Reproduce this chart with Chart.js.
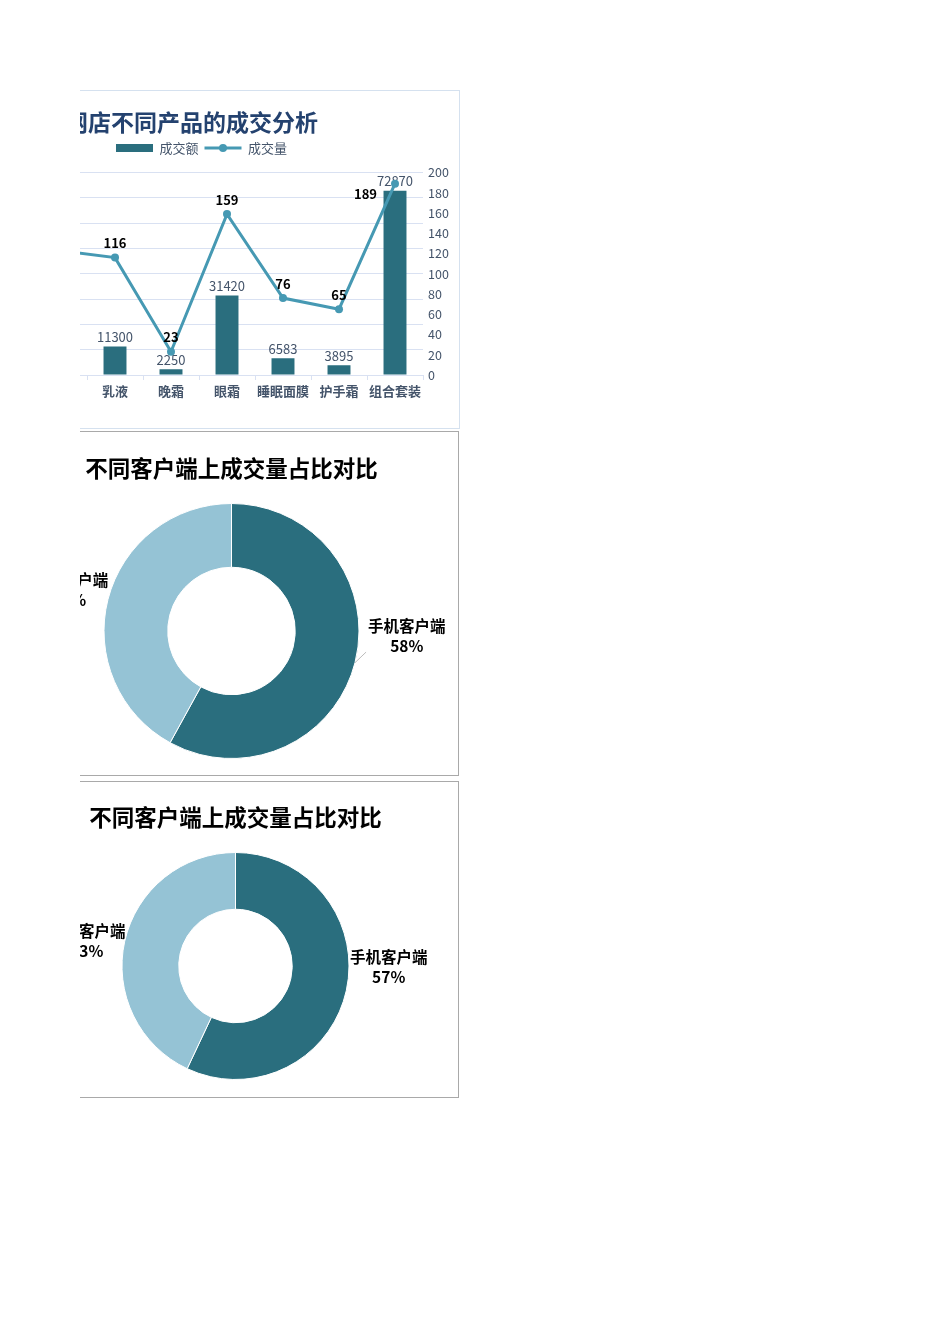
<!DOCTYPE html>
<html>
<head>
<meta charset="utf-8">
<script src="https://cdn.jsdelivr.net/npm/chart.js@4.4.1/dist/chart.umd.min.js"></script>
<style>
  body { margin: 0; background: #fff; }
  #page { position: relative; width: 950px; height: 1344px; }
  #clip { position: absolute; left: 80px; top: 0; width: 870px; height: 1344px; overflow: hidden; }
  .box { position: absolute; box-sizing: border-box; background: #fff; }
  .box canvas { position: absolute; left: 0; top: 0; }
  #box1 { left: -157px; top: 90px; width: 537px; height: 339px; border: 1px solid #D5E1EF; }
  #box2 { left: -76px; top: 431px; width: 455px; height: 345px; border: 1px solid #A9A9A9; }
  #box3 { left: -68px; top: 781px; width: 447px; height: 317px; border: 1px solid #A9A9A9; }
</style>
</head>
<body>
<div id="page">
  <div id="clip">
    <div class="box" id="box1"><canvas id="salesChart" width="535" height="337"></canvas></div>
    <div class="box" id="box2"><canvas id="clientChart1" width="453" height="343"></canvas></div>
    <div class="box" id="box3"><canvas id="clientChart2" width="445" height="315"></canvas></div>
  </div>
</div>
<script>
  // 产品成交数据（前两个品类在原图中被裁掉，数值为估计）
  const products = ['洗面奶', '爽肤水', '乳液', '晚霜', '眼霜', '睡眠面膜', '护手霜', '组合套装'];
  const amount = [15600, 18400, 11300, 2250, 31420, 6583, 3895, 72870];
  const volume = [96, 123, 116, 23, 159, 76, 65, 189];

  // 客户端占比
  const clients = ['手机客户端', '电脑客户端'];
  const share1 = [58, 42];
  const share2 = [57, 43];

  const DARK = '#2A6E7E';
  const LIGHT = '#95C3D5';
  const LINE = '#4699B3';
  const AXIS_TEXT = '#44546A';
  const LEGEND_SHIFT = 10;

  Chart.defaults.font.family = '"Noto Sans CJK SC", "Noto Sans", sans-serif';

  // 数值标签：柱子在线下，折线标签在最上面
  const valueLabels = {
    id: 'valueLabels',
    afterDatasetDraw(chart, args) {
      const ctx = chart.ctx;
      ctx.save();
      if (args.index === 0) {
        ctx.font = '13px "Noto Sans CJK SC"';
        ctx.fillStyle = AXIS_TEXT;
        ctx.textAlign = 'center';
        ctx.textBaseline = 'bottom';
        args.meta.data.forEach((bar, i) => ctx.fillText(amount[i], bar.x, bar.y - 3));
      } else {
        ctx.font = 'bold 13px "Noto Sans CJK SC"';
        ctx.fillStyle = '#000';
        args.meta.data.forEach((pt, i) => {
          if (i === volume.length - 1) {
            ctx.textAlign = 'right';
            ctx.textBaseline = 'middle';
            ctx.fillText(volume[i], pt.x - 18, pt.y + 10);
          } else {
            ctx.textAlign = 'center';
            ctx.textBaseline = 'bottom';
            ctx.fillText(volume[i], pt.x, pt.y - 8);
          }
        });
      }
      ctx.restore();
    }
  };

  // 图例：往右挪一点，下方留点空，折线项画成线 + 圆点
  const legendTweak = {
    id: 'legendTweak',
    beforeUpdate(chart) {
      const lg = chart.legend;
      if (!lg || lg._tweaked) return;
      lg._tweaked = true;
      const fit = lg.fit.bind(lg);
      lg.fit = function () { fit(); this.height += 8; };
      const draw = lg.draw.bind(lg);
      lg.draw = function () {
        chart.ctx.save();
        chart.ctx.translate(LEGEND_SHIFT, 0);
        draw();
        chart.ctx.restore();
      };
    },
    afterDraw(chart) {
      const hb = chart.legend.legendHitBoxes[1];
      if (!hb) return;
      const ctx = chart.ctx;
      const x = hb.left + LEGEND_SHIFT;
      const y = hb.top + hb.height / 2;
      ctx.save();
      ctx.strokeStyle = LINE;
      ctx.lineWidth = 3;
      ctx.beginPath();
      ctx.moveTo(x, y);
      ctx.lineTo(x + 37, y);
      ctx.stroke();
      ctx.fillStyle = LINE;
      ctx.beginPath();
      ctx.arc(x + 18.5, y, 4, 0, Math.PI * 2);
      ctx.fill();
      ctx.restore();
    }
  };

  function salesChart() {
    new Chart('salesChart', {
      data: {
        labels: products,
        datasets: [{
          type: 'bar',
          label: '成交额',
          data: amount,
          yAxisID: 'yL',
          backgroundColor: DARK,
          categoryPercentage: 1,
          barPercentage: 0.41,
          order: 1
        }, {
          type: 'line',
          label: '成交量',
          data: volume,
          yAxisID: 'yR',
          borderColor: LINE,
          backgroundColor: LINE,
          borderWidth: 3,
          pointRadius: 4,
          pointBackgroundColor: LINE,
          pointBorderWidth: 0,
          tension: 0,
          order: 0
        }]
      },
      options: {
        responsive: false,
        animation: false,
        layout: { padding: { left: 0, right: 0, top: 0, bottom: 20 } },
        plugins: {
          title: {
            display: true,
            text: '网店不同产品的成交分析',
            color: '#24426F',
            font: { size: 23, weight: 'bold' },
            padding: { top: 17, bottom: 0 }
          },
          legend: {
            display: true,
            labels: {
              boxWidth: 37,
              boxHeight: 8,
              padding: 6,
              color: AXIS_TEXT,
              font: { size: 13 },
              generateLabels(chart) {
                const items = Chart.defaults.plugins.legend.labels.generateLabels(chart);
                items.sort((a, b) => a.datasetIndex - b.datasetIndex);
                items.forEach(it => {
                  it.lineWidth = 0;
                  it.strokeStyle = 'rgba(0,0,0,0)';
                  it.fillStyle = it.datasetIndex === 0 ? DARK : 'rgba(0,0,0,0)';
                });
                return items;
              }
            }
          },
          tooltip: { enabled: false }
        },
        scales: {
          x: {
            grid: { display: true, drawOnChartArea: false, drawTicks: true, tickLength: 5, color: '#D9E1F2', offset: true },
            border: { display: true, color: '#D9E1F2' },
            ticks: { color: AXIS_TEXT, font: { size: 13, weight: 'bold' }, padding: 3, maxRotation: 0 },
            afterFit(scale) { scale.height = 33; }
          },
          yL: {
            position: 'left',
            min: 0,
            max: 80000,
            ticks: { stepSize: 10000, color: AXIS_TEXT, font: { size: 12 } },
            grid: { color: '#D9E1F2', drawTicks: false },
            border: { display: false },
            afterFit(scale) { scale.width = 51; }
          },
          yR: {
            position: 'right',
            min: 0,
            max: 200,
            ticks: { stepSize: 20, color: AXIS_TEXT, font: { size: 12.5 }, padding: 5 },
            grid: { display: false, drawTicks: false },
            border: { display: false },
            afterFit(scale) { scale.width = 36; }
          }
        }
      },
      plugins: [valueLabels, legendTweak]
    });
  }

  // 环形图外侧标签：名称 + 百分比
  const sliceLabels = {
    id: 'sliceLabels',
    afterDraw(chart, args, opts) {
      const ctx = chart.ctx;
      const data = chart.data.datasets[0].data;
      const total = data.reduce((a, b) => a + b, 0);
      chart.getDatasetMeta(0).data.forEach((arc, i) => {
        const p = arc.getProps(['x', 'y', 'startAngle', 'endAngle', 'outerRadius'], true);
        const mid = (p.startAngle + p.endAngle) / 2;
        const lx = p.x + opts.pos[i][0] * p.outerRadius;
        const ly = p.y + opts.pos[i][1] * p.outerRadius;
        const name = chart.data.labels[i];
        const pct = Math.round(data[i] / total * 100) + '%';
        ctx.save();
        ctx.font = 'bold 15.5px "Noto Sans CJK SC"';
        ctx.fillStyle = '#000';
        ctx.textAlign = 'center';
        ctx.textBaseline = 'middle';
        ctx.fillText(name, lx, ly - 10);
        ctx.fillText(pct, lx, ly + 10);
        const half = ctx.measureText(name).width / 2;
        const ex = p.x + Math.cos(mid) * p.outerRadius;
        const ey = p.y + Math.sin(mid) * p.outerRadius;
        const tx = ex > p.x ? lx - half - 2 : lx + half + 2;
        if (Math.abs(tx - ex) > 4) {
          ctx.strokeStyle = '#A6A6A6';
          ctx.lineWidth = 0.75;
          ctx.beginPath();
          ctx.moveTo(ex, ey);
          ctx.lineTo(tx, ly + 16);
          ctx.stroke();
        }
        ctx.restore();
      });
    }
  };

  function clientChart(id, values, padTop, padBottom, pos) {
    new Chart(id, {
      type: 'doughnut',
      data: {
        labels: clients,
        datasets: [{
          data: values,
          backgroundColor: [DARK, LIGHT],
          borderColor: '#fff',
          borderWidth: 1
        }]
      },
      options: {
        responsive: false,
        animation: false,
        cutout: '50%',
        layout: { padding: { bottom: padBottom } },
        plugins: {
          title: {
            display: true,
            text: '不同客户端上成交量占比对比',
            color: '#000',
            font: { size: 22.5, weight: 'bold' },
            padding: { top: padTop, bottom: 21 }
          },
          legend: { display: false },
          tooltip: { enabled: false },
          sliceLabels: { pos: pos }
        }
      },
      plugins: [sliceLabels]
    });
  }

  salesChart();
  clientChart('clientChart1', share1, 23, 16, [[1.375, 0.04], [-1.27, -0.32]]);
  clientChart('clientChart2', share2, 22, 17, [[1.35, 0.01], [-1.31, -0.22]]);
</script>
</body>
</html>
